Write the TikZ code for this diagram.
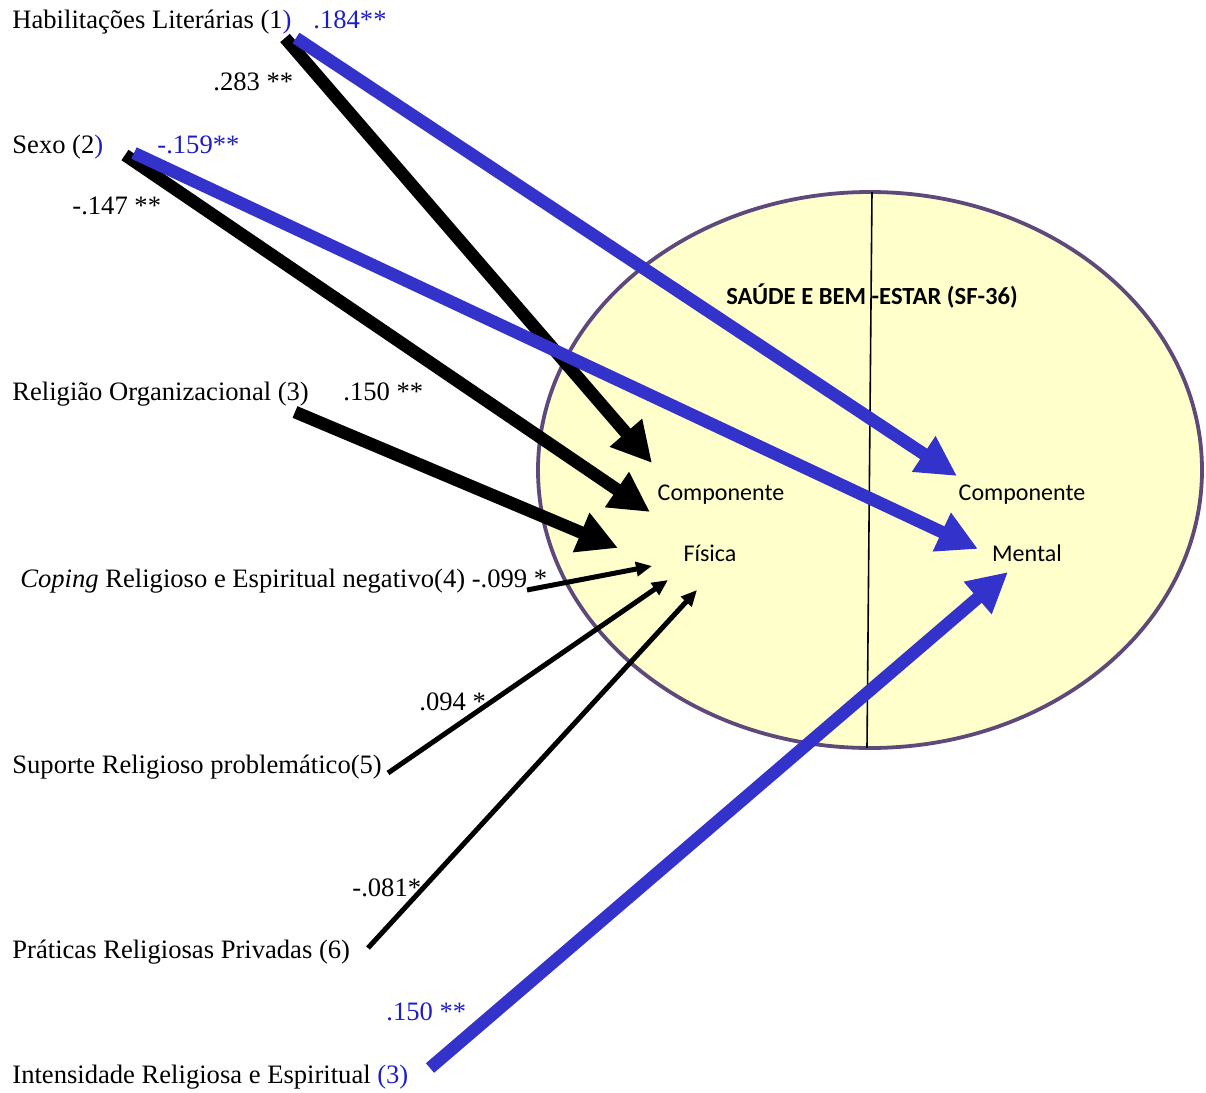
\documentclass[tikz,border=0pt]{standalone}
\usepackage{fontspec}
\setmainfont{Liberation Serif}
\newfontfamily\calfont{Carlito}
\usetikzlibrary{arrows.meta,positioning}
\definecolor{pathblue}{RGB}{51,51,204}
\definecolor{numblue}{RGB}{30,30,200}
\definecolor{rimpurple}{RGB}{95,73,122}
\definecolor{fillyellow}{RGB}{255,255,204}

\begin{document}
\begin{tikzpicture}[x=0.5pt,y=-0.5pt,
  lbl/.style={anchor=base west, inner sep=0pt, font=\fontsize{13.3}{15}\selectfont},
  comp/.style={anchor=base, inner sep=0pt, font=\calfont\fontsize{12}{14}\selectfont},
  bigblack/.style={line width=6.3pt, -{Triangle[length=20pt,width=20pt]}},
  bigblue/.style={bigblack, draw=pathblue, fill=pathblue},
  smallarr/.style={line width=2.5pt, -{Triangle[length=8pt,width=7pt]}}]
  \useasboundingbox (0,0) rectangle (1206,1093);

  % SF-36 ellipse
  \draw[rimpurple, line width=1.9pt, fill=fillyellow] (870,470) ellipse [x radius=166pt, y radius=139pt];
  \draw[line width=0.8pt] (872,192) -- (867,748);

  \node[comp, font=\calfont\bfseries\fontsize{12.3}{14}\selectfont] (titulo) at (872,304) {SAÚDE E BEM -ESTAR (SF-36)};
  \node[comp] (compf) at (721,500) {Componente};
  \node[comp] (fisica) at (710,561) {Física};
  \node[comp] (compm) at (1022,500) {Componente};
  \node[comp] (mental) at (1027,561) {Mental};

  % predictors
  \node[lbl] (hab) at (12,28) {Habilitações Literárias (1\textcolor{numblue}{)}};
  \node[lbl, numblue] (c184) at (313,28) {.184**};
  \node[lbl] (c283) at (213,90) {.283 **};
  \node[lbl] (sexo) at (12,153) {Sexo (2\textcolor{numblue}{)}};
  \node[lbl, numblue] (c159) at (157,153) {-.159**};
  \node[lbl] (c147) at (72,214) {-.147 **};
  \node[lbl] (relorg) at (12,400) {Religião Organizacional (3)};
  \node[lbl] (c150a) at (343,400) {.150 **};
  \node[lbl] (coping) at (20,587) {\textit{Coping} Religioso e Espiritual negativo(4) -.099 *};
  \node[lbl] (c094) at (419,710) {.094 *};
  \node[lbl] (suporte) at (12,773) {Suporte Religioso problemático(5)};
  \node[lbl] (c081) at (352,896) {-.081*};
  \node[lbl] (praticas) at (12,958) {Práticas Religiosas Privadas (6)};
  \node[lbl, numblue] (c150b) at (386,1020) {.150 **};
  \node[lbl] (intens) at (12,1083) {Intensidade Religiosa e Espiritual \textcolor{numblue}{(3)}};

  % arrow ends
  \coordinate (habK) at (285,38);
  \coordinate (habB) at (296,38);
  \coordinate (sexoK) at (125,155);
  \coordinate (sexoB) at (134,153);
  \coordinate (relorgK) at (295,412);
  \coordinate (copingK) at (527,590);
  \coordinate (suporteK) at (388,773);
  \coordinate (praticasK) at (368,948);
  \coordinate (intensB) at (430,1068);
  \coordinate (fis1) at (652,463);
  \coordinate (fis2) at (650,512);
  \coordinate (fis3) at (618,548);
  \coordinate (fis4) at (652,566);
  \coordinate (fis5) at (668,580);
  \coordinate (fis6) at (697,590);
  \coordinate (men1) at (957,476);
  \coordinate (men2) at (978,549);
  \coordinate (men3) at (1008,572);

  \draw[bigblack] (habK) -- (fis1);
  \draw[bigblack] (sexoK) -- (fis2);
  \draw[bigblack] (relorgK) -- (fis3);
  \draw[smallarr] (copingK) -- (fis4);
  \draw[smallarr] (suporteK) -- (fis5);
  \draw[smallarr] (praticasK) -- (fis6);
  \draw[bigblue] (habB) -- (men1);
  \draw[bigblue] (sexoB) -- (men2);
  \draw[bigblue] (intensB) -- (men3);
\end{tikzpicture}
\end{document}
